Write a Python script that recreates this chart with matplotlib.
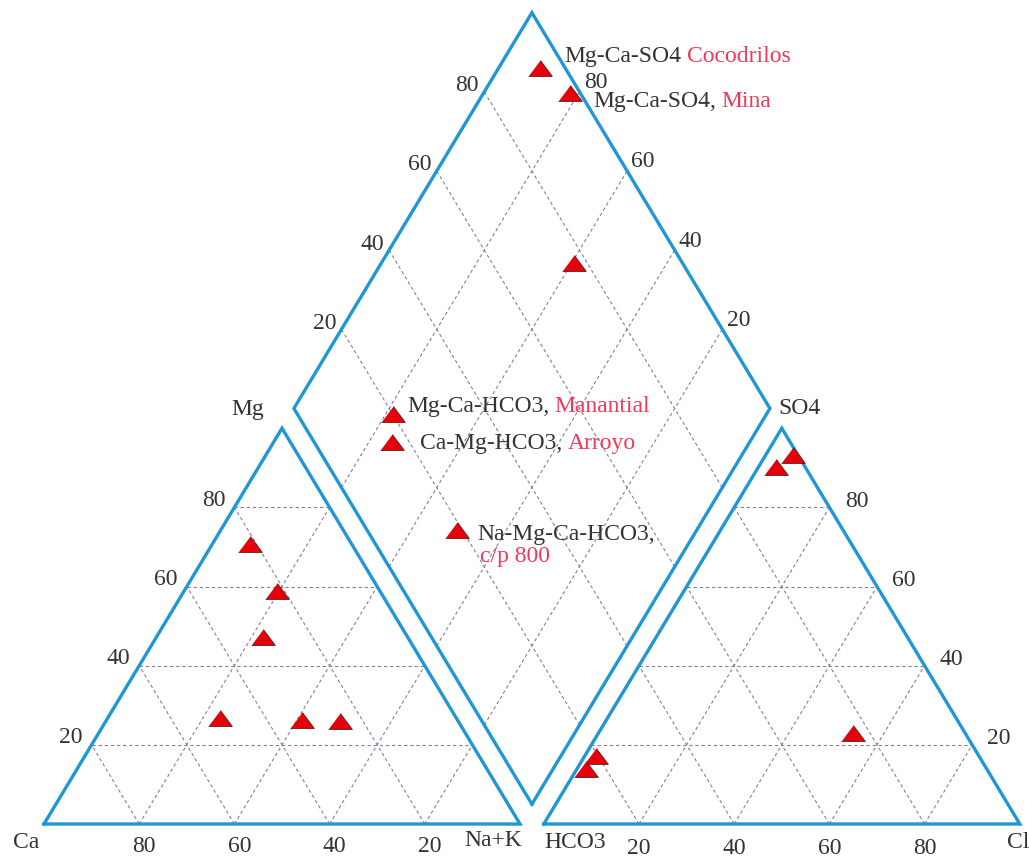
import numpy as np
import matplotlib
matplotlib.use('Agg')
import matplotlib.pyplot as plt

# cation triangle, % of each sample
cat_ca = [21.3, 21.7, 30.4, 49.6, 32.7, 24.8]
cat_mg = [70.7, 58.9, 47.3, 26.9, 26.2, 25.9]
cat_nak = [8.0, 19.4, 22.3, 23.5, 41.1, 49.3]

# anion triangle, %
an_hco3 = [1.1, 6.0, 23.5, 80.4, 84.3]
an_so4 = [93.3, 90.3, 22.9, 17.1, 13.8]
an_cl = [5.6, 3.7, 53.6, 2.5, 1.9]

# diamond: SO4+Cl % and Ca+Mg %
dia_so4cl = [94.6, 97.8, 77.2, 20.1, 16.4, 18.9]
dia_camg = [91.3, 81.8, 59.6, 78.5, 75.2, 50.5]
dia_type = ['Mg-Ca-SO4', 'Mg-Ca-SO4,', '', 'Mg-Ca-HCO3,', 'Ca-Mg-HCO3,', 'Na-Mg-Ca-HCO3,']
dia_site = ['Cocodrilos', 'Mina', '', 'Manantial', 'Arroyo', 'c/p 800']

ticks = [20, 40, 60, 80]

GAP = 5
H = np.sqrt(3) / 2
BLUE = '#1f97d4'
GRID = '#80809a'
RED_TXT = '#f2385a'
DARK = '#333333'
FONT = 'Liberation Serif'
FS = 17


def cat_xy(nak, mg):
    return np.asarray(nak) + np.asarray(mg) / 2, np.asarray(mg) * H


def an_xy(cl, so4):
    return 100 + GAP + np.asarray(cl) + np.asarray(so4) / 2, np.asarray(so4) * H


def dia_xy(a, b):
    a = np.asarray(a)
    b = np.asarray(b)
    return 100 + GAP / 2 + (a - b) / 2, GAP * H + (a + b) * H


def off(dx, dy):
    # pixel offset (y down) -> points
    return (dx * 0.72, -dy * 0.72)


def label(x, y, s, dx, dy, color=DARK, ha='center', va='center'):
    return ax.annotate(s, (x, y), xytext=off(dx, dy), textcoords='offset points',
                       ha=ha, va=va, color=color, fontsize=FS, family=FONT)


fig = plt.figure(figsize=(10.29, 8.59), dpi=100)
ax = fig.add_axes([0, 0, 1, 1])
ax.set_xlim(-44 / 4.76, (1029 - 44) / 4.76)
ax.set_ylim(-(859 - 824) / 4.57, 824 / 4.57)
ax.axis('off')

gkw = dict(color=GRID, lw=0.8, ls=(0, (3, 2.5)), zorder=1)
for t in ticks:
    # cation grid
    ax.plot(*cat_xy([0, 100 - t], [t, t]), **gkw)
    ax.plot(*cat_xy([t, t], [0, 100 - t]), **gkw)
    ax.plot(*cat_xy([100 - t, 0], [0, 100 - t]), **gkw)
    # anion grid
    ax.plot(*an_xy([0, 100 - t], [t, t]), **gkw)
    ax.plot(*an_xy([t, t], [0, 100 - t]), **gkw)
    ax.plot(*an_xy([100 - t, 0], [0, 100 - t]), **gkw)
    # diamond grid
    ax.plot(*dia_xy([t, t], [0, 100]), **gkw)
    ax.plot(*dia_xy([0, 100], [t, t]), **gkw)

okw = dict(color=BLUE, lw=2.4, solid_joinstyle='miter', zorder=2)
ax.plot(*cat_xy([0, 100, 0, 0], [0, 0, 100, 0]), **okw)
ax.plot(*an_xy([0, 100, 0, 0], [0, 0, 100, 0]), **okw)
ax.plot(*dia_xy([0, 100, 100, 0, 0], [0, 0, 100, 100, 0]), **okw)

# tick labels
for t in ticks:
    label(*cat_xy(0, t), str(t), -21, -7)
    label(*cat_xy(100 - t, 0), str(t), 5, 22)
    label(*an_xy(100 - t, t), str(t), 27, -6)
    label(*an_xy(t, 0), str(t), 0, 24)
    label(*dia_xy(t, 100), str(t), -17, -6)
    label(*dia_xy(100, t), str(t), 16, -9)

# vertex names
label(*cat_xy(0, 0), 'Ca', -18, 19)
label(*cat_xy(100, 0), 'Na+K', -27, 16)
label(*cat_xy(0, 100), 'Mg', -34, -19)
label(*an_xy(0, 0), 'HCO3', 31, 19)
label(*an_xy(0, 100), 'SO4', 18, -20)
label(*an_xy(100, 0), 'Cl', -13, 18, ha='left')

# markers
tri = [(-1, -0.67), (1, -0.67), (0, 0.67)]
mkw = dict(ls='none', marker=tri, ms=17, mfc='#e6000a', mec='#5a1a1a', mew=0.6, zorder=4)
ax.plot(*cat_xy(cat_nak, cat_mg), **mkw)
ax.plot(*an_xy(an_cl, an_so4), **mkw)
ax.plot(*dia_xy(dia_so4cl, dia_camg), **mkw)

# sample labels in the diamond
lab_off = [(25, -12), (23, 8), None, (14, -7), (28, 2), (21, 5)]
dx_all, dy_all = dia_xy(dia_so4cl, dia_camg)
for i, (kind, site) in enumerate(zip(dia_type, dia_site)):
    if not kind:
        continue
    t = label(dx_all[i], dy_all[i], kind, *lab_off[i], ha='left')
    if site == 'c/p 800':
        label(dx_all[i], dy_all[i], site, 23, 27, color=RED_TXT, ha='left')
    else:
        ax.annotate(site, (1, 0), xycoords=t, xytext=(4, 0), textcoords='offset points',
                    ha='left', va='bottom', color=RED_TXT, fontsize=FS, family=FONT)

fig.savefig('out.png', dpi=100)
